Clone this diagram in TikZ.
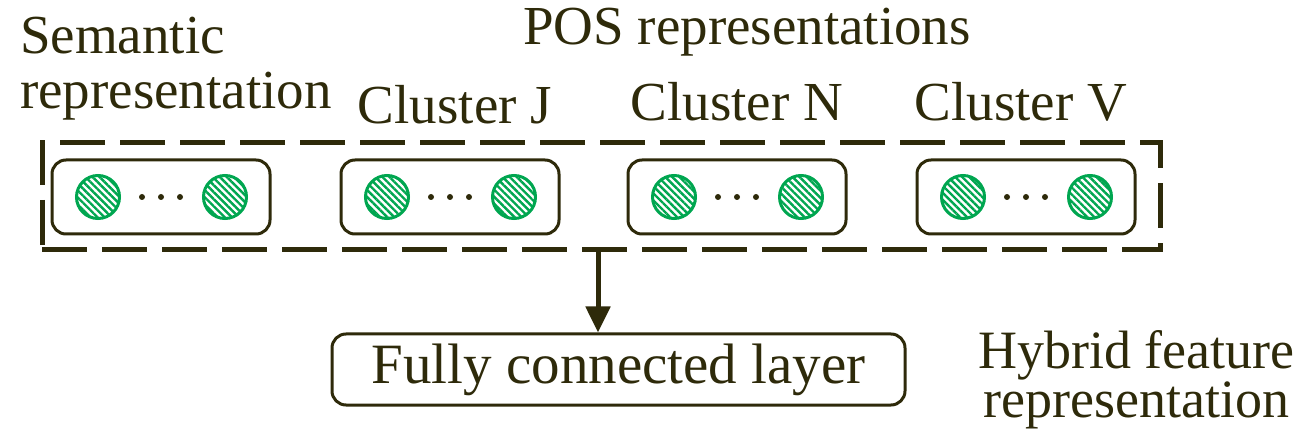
\documentclass[tikz,border=0pt]{standalone}
\usepackage{fontspec}
\setmainfont{Liberation Serif}
\usetikzlibrary{patterns.meta,arrows.meta}
\definecolor{ink}{RGB}{46,42,10}
\definecolor{grn}{RGB}{0,166,80}
\tikzset{
  lbl/.style={text=ink, font=\fontsize{55}{55}\selectfont, inner sep=0pt},
  grp/.style={draw=ink, line width=3pt, rounded corners=14pt, minimum width=218pt, minimum height=74pt, inner sep=0pt},
  unit/.style={circle, draw=grn, line width=3pt, minimum size=43pt, inner sep=0pt,
    pattern={Lines[angle=-45,distance=5pt,line width=2.4pt]}, pattern color=grn},
  dotc/.style={circle, fill=ink, minimum size=6pt, inner sep=0pt},
  outer/.style={draw=ink, line width=5pt, dash pattern=on 45pt off 15pt},
}
\begin{document}
\begin{tikzpicture}[x=1pt,y=-1pt]
\useasboundingbox (0,0) rectangle (1304,438);
% outer dashed box
\node[outer, minimum width=1118pt, minimum height=107pt, inner sep=0pt] (hyb) at (601,196.5) {};
% groups
\foreach \n/\cx in {a/161, b/450, c/737, d/1026}{
  \node[grp] (g\n) at (\cx,197) {};
  \node[unit] (l\n) at ([xshift=-63pt]g\n.center) {};
  \node[unit] (r\n) at ([xshift=64pt]g\n.center) {};
  \node[dotc] (d1\n) at ([xshift=-19pt]g\n.center) {};
  \node[dotc] (d2\n) at (g\n.center) {};
  \node[dotc] (d3\n) at ([xshift=19pt]g\n.center) {};
}
% labels
\node[lbl, align=left, anchor=north west] (sem) at (20,17) {Semantic\\representation};
\node[lbl] (pos) at (747,32) {POS representations};
\node[lbl] (cj) at (455,105) {Cluster J};
\node[lbl] (cn) at (737,102) {Cluster N};
\node[lbl] (cv) at (1021,102) {Cluster V};
\node[lbl, font=\fontsize{54}{49}\selectfont, align=center, anchor=north west] (hf) at (978,330) {Hybrid feature\\representation};
% FC layer
\node[draw=ink, line width=3pt, rounded corners=14pt, minimum width=573pt, minimum height=71pt, text=ink, font=\fontsize{57}{64}\selectfont] (fc) at (618.5,369.5) {Fully connected layer};
\draw[draw=ink, line width=5pt, -{Triangle[length=26pt,width=24pt]}] (598,252) -- (fc.north -| 598,0);
\end{tikzpicture}
\end{document}
